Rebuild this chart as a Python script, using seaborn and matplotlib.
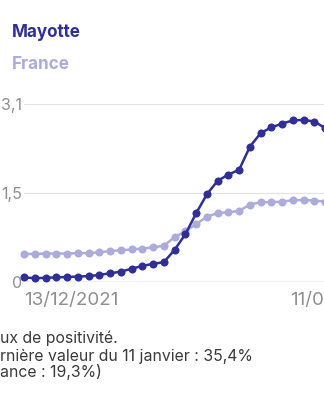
import matplotlib
matplotlib.use("Agg")
import matplotlib.pyplot as plt
import matplotlib.transforms as mtrans
import seaborn as sns
import pandas as pd

# ---- data ----
dates = pd.date_range("2021-12-13", "2022-01-11", freq="D")
mayotte = [1.0, 0.8, 0.9, 1.0, 1.1, 1.2, 1.3, 1.6, 2.0, 2.4,
           3.1, 3.8, 4.3, 4.7, 7.7, 11.5, 16.6, 21.2, 24.5, 26.0,
           27.2, 32.8, 36.1, 37.5, 38.4, 39.2, 39.3, 38.9, 37.3, 35.4]
france = [6.7, 6.7, 6.8, 6.8, 6.8, 6.9, 6.9, 7.1, 7.4, 7.6,
          7.8, 8.0, 8.3, 8.7, 10.8, 12.2, 14.0, 15.7, 16.7, 16.8,
          17.2, 18.7, 19.3, 19.3, 19.4, 19.8, 19.8, 19.7, 19.4, 19.3]
series_names = ["France", "Mayotte"]
y_ticks = [0, 21.55, 43.1]
# tick labels as they are visible in the (cropped) reference
y_tick_labels = ["0", "1,5", "3,1"]
x_tick_labels = ["13/12/2021", "11/0"]
notes = ["ux de positivité.",
         "rnière valeur du 11 janvier : 35,4%",
         "ance : 19,3%)"]

df = pd.DataFrame({
    "date": list(dates) * 2,
    "value": france + mayotte,
    "serie": [series_names[0]] * len(dates) + [series_names[1]] * len(dates),
})

DARK = "#2f2f96"
LIGHT = "#acacda"
palette = {"Mayotte": DARK, "France": LIGHT}

sns.set_theme(style="white")
plt.rcParams["font.family"] = ["Inter", "DejaVu Sans"]

W, H = 324, 400
fig = plt.figure(figsize=(W / 100, H / 100), dpi=100)
ax = fig.add_axes([24 / W, 118.5 / H, 312 / W, 177.2 / H])

sns.lineplot(data=df, x="date", y="value", hue="serie", palette=palette,
             hue_order=series_names, marker="o", markersize=5.8,
             markeredgewidth=0, linewidth=1.8, legend=False, ax=ax,
             clip_on=False)

ax.set_xlim(dates[0], dates[-1])
ax.set_ylim(0, 43.1)
for s in ax.spines.values():
    s.set_visible(False)

ax.set_yticks(y_ticks)
ax.set_yticklabels(y_tick_labels)
ax.yaxis.grid(True, color="#e4e4e6", linewidth=0.9)
ax.set_axisbelow(True)
ax.axhline(0, color="#c6c6c8", linewidth=1.0, zorder=0.5)
ax.tick_params(axis="y", length=0, pad=1.2, labelsize=11.5, labelcolor="#8e8e93")

ax.set_xticks([dates[0], dates[-1]])
ax.set_xticklabels(x_tick_labels)
ax.tick_params(axis="x", length=0, pad=7.5, labelsize=13.5, labelcolor="#8e8e93")
xl = ax.get_xticklabels()
xl[0].set_horizontalalignment("left")
xl[1].set_horizontalalignment("left")
xl[1].set_transform(xl[1].get_transform() +
                    mtrans.ScaledTranslation(-46 / 100, 0, fig.dpi_scale_trans))
ax.set_xlabel("")
ax.set_ylabel("")

# legend as text
fig.text(12 / W, 1 - 37 / H, "Mayotte", color=DARK, fontsize=12.3,
         fontweight="bold", va="baseline", ha="left")
fig.text(12 / W, 1 - 69 / H, "France", color=LIGHT, fontsize=12.3,
         fontweight="bold", va="baseline", ha="left")

# notes below the chart
for txt, yb in zip(notes, [343, 360.5, 377.5]):
    fig.text(0.5 / W, 1 - yb / H, txt, color="#3a3a3c", fontsize=11.4,
             va="baseline", ha="left")

fig.savefig("out.png", dpi=100, facecolor="white")
